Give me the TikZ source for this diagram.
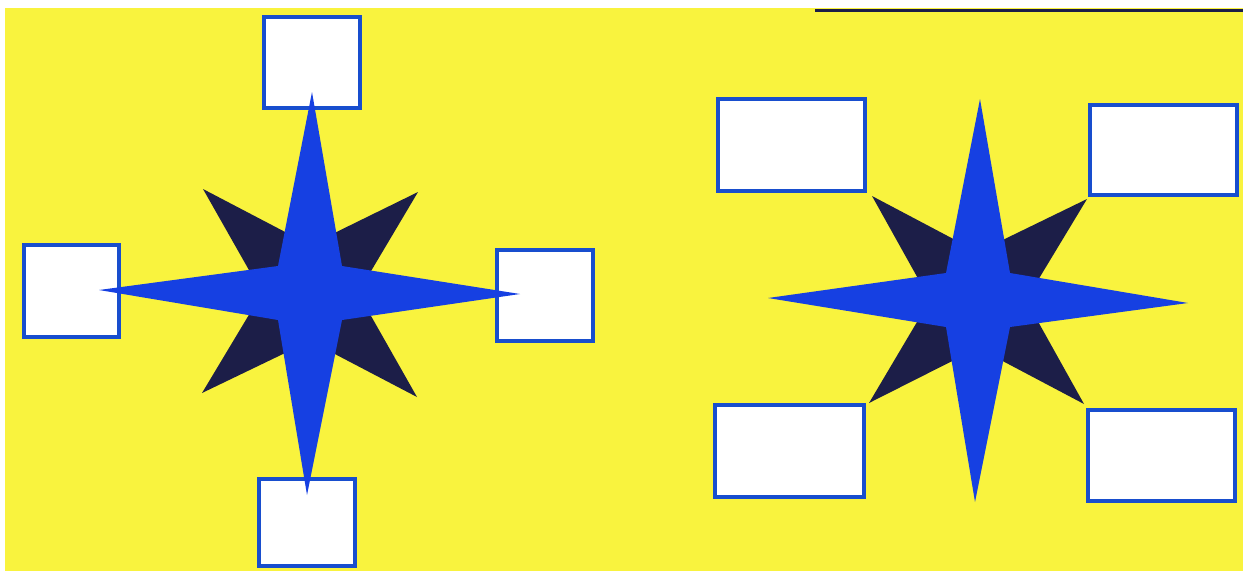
\documentclass[tikz,border=0pt]{standalone}
\definecolor{bgyellow}{RGB}{249,243,62}
\definecolor{starblue}{RGB}{22,64,226}
\definecolor{starnavy}{RGB}{28,30,72}
\definecolor{boxblue}{RGB}{24,78,206}
\tikzset{
  cell/.style={draw=boxblue, line width=4pt, fill=white, inner sep=0pt, rectangle},
  bluestar/.style={fill=starblue, draw=none},
  navystar/.style={fill=starnavy, draw=none},
}
\begin{document}
\begin{tikzpicture}[x=1pt,y=-1pt]
\useasboundingbox (0,0) rectangle (1246,571);
\fill[white] (0,0) rectangle (1246,571);
% background
\fill[bgyellow] (5,8) rectangle (1243,571);
\draw[starnavy, line width=3pt] (815,10) -- (1243,10);

% left star boxes
\node[cell, minimum width=96pt, minimum height=91pt] (Ltop) at (312,62.5) {};
\node[cell, minimum width=95pt, minimum height=92pt] (Lleft) at (71.5,291) {};
\node[cell, minimum width=96pt, minimum height=91pt] (Lright) at (545,295.5) {};
\node[cell, minimum width=96pt, minimum height=87pt] (Lbottom) at (307,522.5) {};

% right star boxes
\node[cell, minimum width=147pt, minimum height=92pt] (Rtl) at (791.5,145) {};
\node[cell, minimum width=147pt, minimum height=90pt] (Rtr) at (1163.5,150) {};
\node[cell, minimum width=149pt, minimum height=92pt] (Rbl) at (789.5,451) {};
\node[cell, minimum width=147pt, minimum height=91pt] (Rbr) at (1161.5,455.5) {};

% left star
\fill[navystar] (203,189) -- (310,245) -- (418,192) -- (358,293) -- (417,397)
  -- (310,341) -- (202,393) -- (262,293) -- cycle;
\fill[bluestar] (312,92) -- (342,266) -- (520,294) -- (342,320) -- (307,495)
  -- (278,320) -- (99,290) -- (278,266) -- cycle;

% right star
\fill[navystar] (872,196) -- (978,252) -- (1087,199) -- (1026,300) -- (1084,404)
  -- (978,348) -- (869,403) -- (930,300) -- cycle;
\fill[bluestar] (980,99) -- (1010,273) -- (1188,303) -- (1010,327) -- (975,502)
  -- (946,327) -- (768,298) -- (946,273) -- cycle;
\end{tikzpicture}
\end{document}
